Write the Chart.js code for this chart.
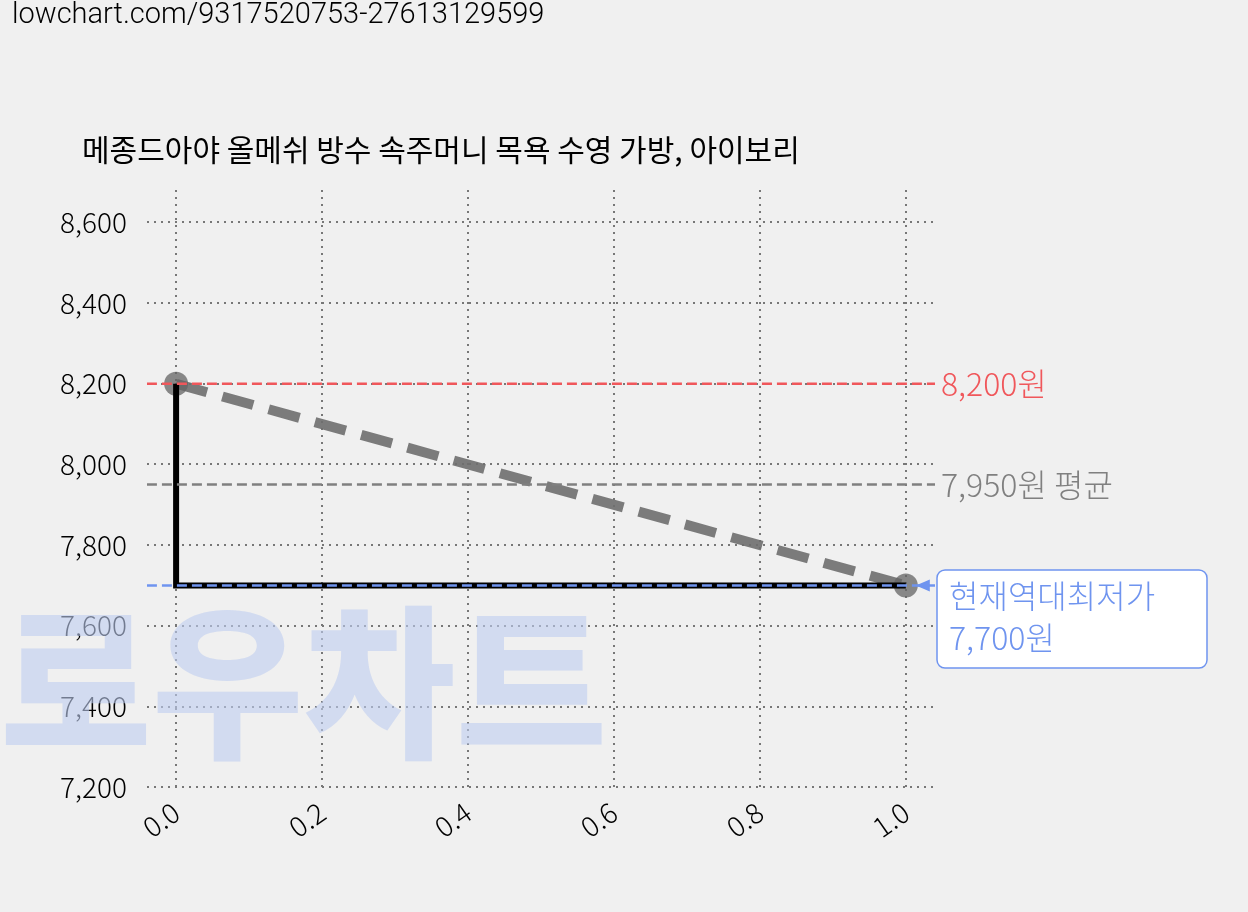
<!DOCTYPE html>
<html><head><meta charset="utf-8">
<script src="https://cdn.jsdelivr.net/npm/chart.js@4"></script>
<style>
body{margin:0;background:#f0f0f0;}
#wrap{position:relative;width:1248px;height:912px;}
#src{position:absolute;left:12px;top:-4px;font:300 29px Roboto,sans-serif;color:#000;}
</style></head><body>
<div id="wrap"><div id="src">lowchart.com/9317520753-27613129599</div><canvas id="c" width="1248" height="912"></canvas></div>
<script>
// ======== Data ========
const title = '메종드아야 올메쉬 방수 속주머니 목욕 수영 가방, 아이보리';
const stepX = [0, 0, 1];
const stepY = [8200, 7700, 7700];
const trendX = [0, 1];
const trendY = [8200, 7700];
const maxPrice = 8200, avgPrice = 7950, minPrice = 7700;
const xTicks = [0, 0.2, 0.4, 0.6, 0.8, 1.0];
const yTicks = [7200, 7400, 7600, 7800, 8000, 8200, 8400, 8600];

const font = '"Noto Sans CJK KR", Roboto, sans-serif';
const pts = (xs, ys) => xs.map((x, i) => ({x, y: ys[i]}));
const hline = (y) => [{x: -0.04, y}, {x: 1.04, y}];

const overlay = {
    id: 'overlay',
    beforeDatasetsDraw(chart) {
        const {ctx} = chart;
        ctx.save();
        ctx.font = '900 165px ' + font;
        ctx.fillStyle = 'rgba(190,205,240,0.6)';
        ctx.textBaseline = 'middle';
        ctx.fillText('로우차트', 0, 682);
        ctx.restore();
    },
    afterDraw(chart) {
        const {ctx, scales: {x, y}} = chart;
        ctx.save();
        ctx.font = '400 30px ' + font;
        ctx.textBaseline = 'middle';
        ctx.fillStyle = '#000';
        ctx.fillText(title, 82, 150);
        ctx.font = '300 32px ' + font;
        ctx.fillStyle = '#f0575b';
        ctx.fillText('8,200원', x.getPixelForValue(1.04) + 6, y.getPixelForValue(maxPrice));
        ctx.fillStyle = '#808080';
        ctx.fillText('7,950원 평균', x.getPixelForValue(1.04) + 6, y.getPixelForValue(avgPrice));
        // min label box
        const bx = 937, by = 570, bw = 270, bh = 98;
        ctx.fillStyle = '#fff';
        ctx.strokeStyle = '#6f94ef';
        ctx.lineWidth = 1.5;
        ctx.beginPath(); ctx.roundRect(bx, by, bw, bh, 8); ctx.fill(); ctx.stroke();
        ctx.fillStyle = '#6f94ef';
        ctx.fillText('현재역대최저가', bx + 12, by + 26);
        ctx.fillText('7,700원', bx + 12, by + 68);
        const ay = y.getPixelForValue(minPrice);
        ctx.beginPath(); ctx.moveTo(x.getPixelForValue(1) + 10, ay);
        ctx.lineTo(x.getPixelForValue(1) + 24, ay - 6); ctx.lineTo(x.getPixelForValue(1) + 24, ay + 6);
        ctx.closePath(); ctx.fill();
        ctx.restore();
    }
};

new Chart(document.getElementById('c'), {
    type: 'scatter',
    data: {
        datasets: [
            {data: hline(maxPrice), showLine: true, borderColor: '#f0575b', borderWidth: 2.5, borderDash: [10, 5], pointRadius: 0},
            {data: hline(avgPrice), showLine: true, borderColor: '#808080', borderWidth: 2.5, borderDash: [10, 5], pointRadius: 0},
            {data: hline(minPrice), showLine: true, borderColor: '#6f94ef', borderWidth: 2.5, borderDash: [10, 5], pointRadius: 0},
            {data: pts(stepX, stepY), showLine: true, borderColor: '#000', borderWidth: 6, pointRadius: 0},
            {data: pts(trendX, trendY), showLine: true, borderColor: 'rgba(110,110,110,0.9)', borderWidth: 10, borderDash: [32, 16],
             pointRadius: 12, pointBackgroundColor: 'rgba(100,100,100,0.75)', pointBorderWidth: 0},
        ]
    },
    options: {
        responsive: false, animation: false,
        layout: {padding: {left: 40, right: 313, top: 190, bottom: 60}},
        plugins: {legend: {display: false}, tooltip: {enabled: false}},
        scales: {
            x: {type: 'linear', min: -0.04, max: 1.04,
                afterBuildTicks: s => { s.ticks = xTicks.map(v => ({value: v})); },
                border: {display: false, dash: [2, 5]},
                grid: {color: '#777', lineWidth: 2, drawTicks: false},
                ticks: {maxRotation: 35, minRotation: 35, color: '#000', padding: 8,
                        font: {family: font, size: 28, weight: 300},
                        callback: v => v.toFixed(1)}},
            y: {min: 7200, max: 8680,
                afterBuildTicks: s => { s.ticks = yTicks.map(v => ({value: v})); },
                border: {display: false, dash: [2, 5]},
                grid: {color: '#777', lineWidth: 2, drawTicks: false},
                ticks: {color: '#000', padding: 20, font: {family: font, size: 28, weight: 300},
                        callback: v => v.toLocaleString('en-US')}}
        }
    },
    plugins: [overlay]
});
</script>
</body></html>
